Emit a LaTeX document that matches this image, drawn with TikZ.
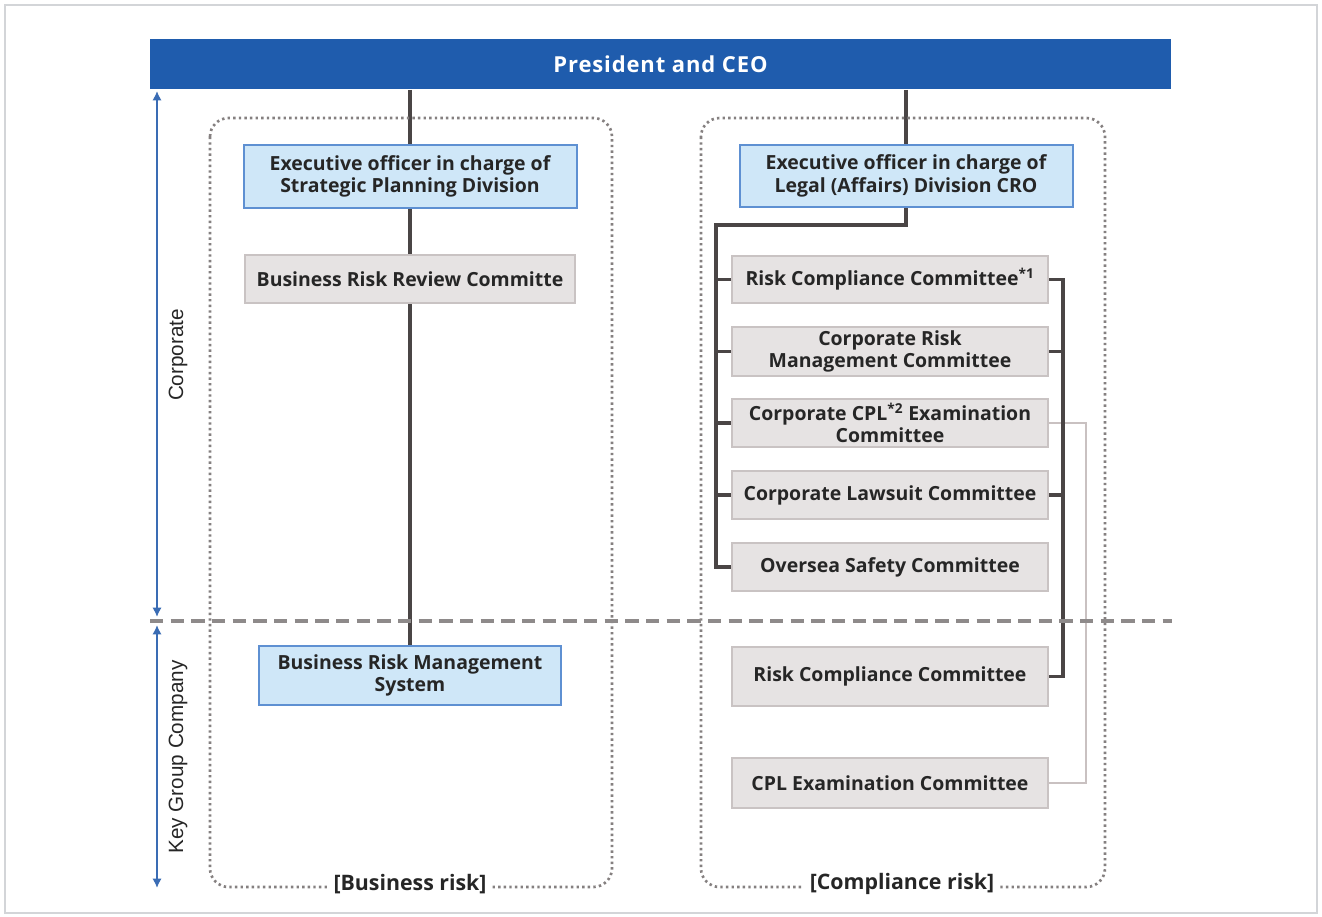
\documentclass[tikz,border=0pt]{standalone}
\usepackage{fontspec}
\setmainfont{Open Sans}
\newfontfamily\labelfont{Liberation Sans}
\usetikzlibrary{arrows.meta,backgrounds}
\definecolor{barblue}{HTML}{1F5CAD}
\definecolor{lblue}{HTML}{CFE7F8}
\definecolor{lblueline}{HTML}{5E90D2}
\definecolor{gfill}{HTML}{E6E3E3}
\definecolor{gline}{HTML}{C9C3C3}
\definecolor{darkline}{HTML}{4A4545}
\definecolor{pale}{HTML}{C9C1C1}
\definecolor{dotgray}{HTML}{858080}
\definecolor{dashgray}{HTML}{8E8A8A}
\definecolor{arrblue}{HTML}{3A6CB4}
\definecolor{framegray}{HTML}{D3D5D8}
\begin{document}
\begin{tikzpicture}[x=0.75pt,y=-0.75pt,
  boxtext/.style={font=\fontsize{14.6}{17}\selectfont\bfseries, text=black!85, align=center, inner sep=0pt},
  bluebox/.style={boxtext, draw=lblueline, fill=lblue, line width=1.5pt},
  graybox/.style={boxtext, draw=gline, fill=gfill, line width=1.5pt},
  conn/.style={draw=darkline, line width=2.4pt},
  paleconn/.style={draw=pale, line width=1.6pt},
  container/.style={draw=dotgray, line width=2pt, dash pattern=on 1.8pt off 2.4pt, rounded corners=14pt},
  sidearrow/.style={draw=arrblue, line width=2pt, {Latex[length=7pt,width=7pt]}-{Latex[length=7pt,width=7pt]}},
  sidelabel/.style={font=\labelfont\fontsize{15.5}{17}\selectfont, text=black!85, rotate=90},
  conlabel/.style={font=\fontsize{16}{18}\selectfont\bfseries, fill=white, inner xsep=4pt, inner ysep=1pt, text=black!85}
]
\useasboundingbox (0,0) rectangle (1322,917);

% top bar
\node[fill=barblue, minimum width=765.75pt, minimum height=37.5pt, inner sep=0pt,
      text=white, font=\fontsize{16.5}{18}\selectfont\bfseries] (ceo) at (660.5,64.5) {\addfontfeature{LetterSpace=4}President and CEO};

% containers
\draw[container] (210,118) rectangle (612,887);
\draw[container] (701,118) rectangle (1105,887);

% horizontal dashed separator
\coordinate (sepL) at (150,621);
\coordinate (sepR) at (1172,621);

% left column boxes
\node[bluebox, minimum width=249.75pt, minimum height=47.25pt] (lexec) at (410,176.5) {Executive officer in charge of\\Strategic Planning Division};
\node[graybox, minimum width=247.5pt, minimum height=36pt] (review) at (410,279) {Business Risk Review Committe};
\node[bluebox, minimum width=226.5pt, minimum height=44.25pt] (brms) at (410,675.5) {Business Risk Management\\System};

% right column boxes
\node[bluebox, minimum width=249.75pt, minimum height=46.5pt] (rexec) at (906,176) {Executive officer in charge of\\Legal (Affairs) Division CRO};
\node[graybox, minimum width=237pt, minimum height=35.25pt] (rc1) at (890,279.5) {Risk Compliance Committee\textsuperscript{*1}};
\node[graybox, minimum width=237pt, minimum height=36.75pt] (crm) at (890,351.5) {Corporate Risk\\Management Committee};
\node[graybox, minimum width=237pt, minimum height=36pt] (cpl2) at (890,423) {Corporate CPL\textsuperscript{*2} Examination\\Committee};
\node[graybox, minimum width=237pt, minimum height=36pt] (law) at (890,495) {Corporate Lawsuit Committee};
\node[graybox, minimum width=237pt, minimum height=36pt] (os) at (890,567) {Oversea Safety Committee};
\node[graybox, minimum width=237pt, minimum height=44.25pt] (rcg) at (890,676.5) {Risk Compliance Committee};
\node[graybox, minimum width=237pt, minimum height=37.5pt] (cplg) at (890,783) {CPL Examination Committee};

% container labels
\node[conlabel] (lblB) at (410,884) {[Business risk]};
\node[conlabel] (lblC) at (902,884) {[Compliance risk]};

% background, frame and connectors (behind boxes)
\begin{scope}[on background layer]
  \fill[white] (0,0) rectangle (1322,917);
  \draw[framegray, line width=2.2pt] (5,5) rectangle (1317,913);
  \draw[conn] (lexec.north |- ceo.south) -- (lexec.north);
  \draw[conn] (lexec.south) -- (review.north);
  \draw[conn] (review.south) -- (brms.north);
  \draw[conn] (rexec.north |- ceo.south) -- (rexec.north);
  \coordinate (sp) at (716,225);
  \draw[conn] (rexec.south) |- (sp) |- (os.west);
  \draw[conn] (sp |- rc1.west) -- (rc1.west);
  \draw[conn] (sp |- crm.west) -- (crm.west);
  \draw[conn] (sp |- cpl2.west) -- (cpl2.west);
  \draw[conn] (sp |- law.west) -- (law.west);
  \coordinate (ls) at (1086,0);
  \draw[paleconn] (cpl2.east) -| (ls |- cplg.east) -- (cplg.east);
  \coordinate (rs) at (1063,0);
  \draw[conn] (rc1.east) -| (rs |- rcg.east) -- (rcg.east);
  \draw[conn] (crm.east) -- (crm.east -| rs);
  \draw[conn] (law.east) -- (law.east -| rs);
\end{scope}

\draw[dashgray, line width=3.6pt, dash pattern=on 10pt off 5.5pt] (sepL) -- (sepR);

% side arrows
\coordinate (aTop) at (157,91);
\coordinate (aMid1) at (157,617);
\coordinate (aMid2) at (157,625);
\coordinate (aBot) at (157,888);
\draw[sidearrow] (aTop) -- (aMid1);
\draw[sidearrow] (aMid2) -- (aBot);
\node[sidelabel] (corp) at (178,355) {Corporate};
\node[sidelabel] (kgc) at (178,757) {Key Group Company};
\end{tikzpicture}
\end{document}
